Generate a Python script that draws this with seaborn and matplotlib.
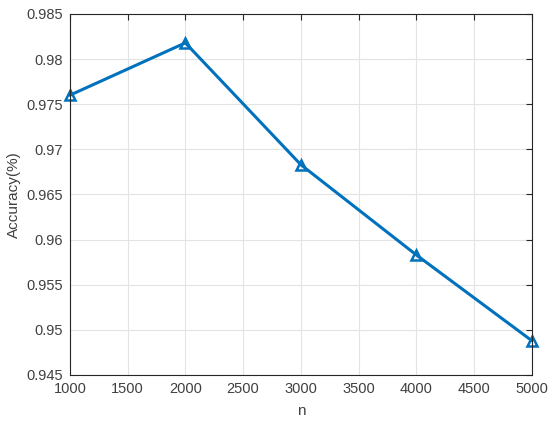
import matplotlib
matplotlib.use("Agg")
import matplotlib.pyplot as plt
import seaborn as sns
import pandas as pd

n_values = [1000, 2000, 3000, 4000, 5000]
accuracy = [0.9760, 0.9818, 0.9683, 0.9583, 0.9488]
x_ticks = [1000, 1500, 2000, 2500, 3000, 3500, 4000, 4500, 5000]
y_ticks = [0.945, 0.95, 0.955, 0.96, 0.965, 0.97, 0.975, 0.98, 0.985]
y_tick_labels = ["0.945", "0.95", "0.955", "0.96", "0.965", "0.97", "0.975", "0.98", "0.985"]

sns.set_style("white")
plt.rcParams["font.family"] = ["Liberation Sans", "DejaVu Sans"]

df = pd.DataFrame({"n": n_values, "acc": accuracy})

fig = plt.figure(figsize=(5.5, 4.24), dpi=100)
ax = fig.add_axes([0.127, 0.1156, 0.840, 0.8514])

sns.lineplot(data=df, x="n", y="acc", ax=ax, color="#0072BD", linewidth=2.2,
             marker="^", markersize=7, markerfacecolor="none",
             markeredgecolor="#0072BD", markeredgewidth=1.8, clip_on=False)

ax.set_xlim(1000, 5000)
ax.set_ylim(0.945, 0.985)
ax.set_xticks(x_ticks)
ax.set_xticklabels([str(t) for t in x_ticks])
ax.set_yticks(y_ticks)
ax.set_yticklabels(y_tick_labels)
ax.grid(True, color="#e3e3e3", linewidth=0.8)
ax.set_axisbelow(True)
for s in ax.spines.values():
    s.set_color("#262626")
    s.set_linewidth(0.8)
ax.tick_params(direction="in", length=4, width=0.8, colors="#262626",
               labelsize=10.5, top=True, right=True, labelcolor="#404040", pad=5)
ax.set_xlabel("n", fontsize=11, color="#404040", labelpad=6)
ax.set_ylabel("Accuracy(%)", fontsize=11, color="#404040")

fig.savefig("out.png", dpi=100)
